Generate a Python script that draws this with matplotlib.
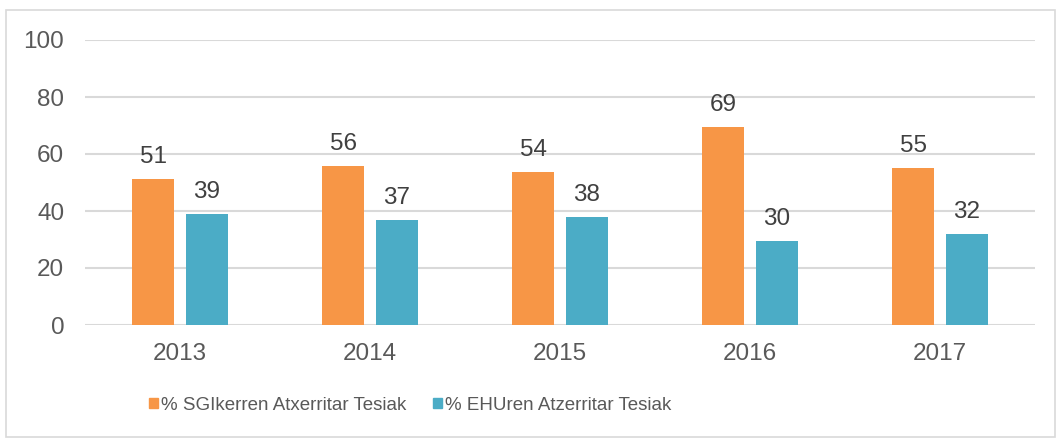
import matplotlib
matplotlib.use("Agg")
import matplotlib.pyplot as plt
import numpy as np
from matplotlib.patches import Patch, Rectangle

years = ["2013", "2014", "2015", "2016", "2017"]
sgiker = [51.3, 55.7, 53.7, 69.4, 55.0]
ehu = [38.9, 36.9, 37.9, 29.5, 31.9]
series_names = ["% SGIkerren Atxerritar Tesiak", "% EHUren Atzerritar Tesiak"]
yticks = [0, 20, 40, 60, 80, 100]

orange = "#F79646"
blue = "#4BACC6"
txt = "#595959"
grid = "#D9D9D9"

plt.rcParams['font.family'] = ['Liberation Sans', 'DejaVu Sans']

fig = plt.figure(figsize=(10.61, 4.40), dpi=100)
ax = fig.add_axes([85/1061, 1-325/440, 950/1061, 285/440])

x = np.arange(len(years))
w = 0.226
off = 0.142
b1 = ax.bar(x - off, sgiker, w, color=orange, zorder=3)
b2 = ax.bar(x + off, ehu, w, color=blue, zorder=3)
for bars, vals in ((b1, sgiker), (b2, ehu)):
    ax.bar_label(bars, labels=[f"{round(v):d}" for v in vals], padding=8,
                 fontsize=17.5, color="#404040")

ax.set_xlim(-0.5, len(years) - 0.5)
ax.set_ylim(0, 100)
ax.set_yticks(yticks)
ax.set_xticks(x)
ax.set_xticklabels(years)
ax.yaxis.grid(True, color=grid, linewidth=1.5, zorder=0)
ax.set_axisbelow(True)
for s in ax.spines.values():
    s.set_visible(False)
ax.tick_params(axis='both', length=0, labelsize=17.5, colors=txt)
ax.tick_params(axis='y', pad=15)
ax.tick_params(axis='x', pad=13)

handles = [Patch(color=orange), Patch(color=blue)]
fig.legend(handles, series_names, loc='center', bbox_to_anchor=(410/1061, 1-405/440),
           ncol=2, frameon=False, labelcolor=txt,
           prop={'size': 13.5},
           handlelength=0.5, handleheight=0.5, handletextpad=0.15,
           columnspacing=1.4)

fig.patches.append(Rectangle((6/1061, 1-437/440), 1049/1061, 427/440,
                             transform=fig.transFigure, fill=False,
                             edgecolor="#D9D9D9", linewidth=1.2))

fig.savefig("out.png", dpi=100)
